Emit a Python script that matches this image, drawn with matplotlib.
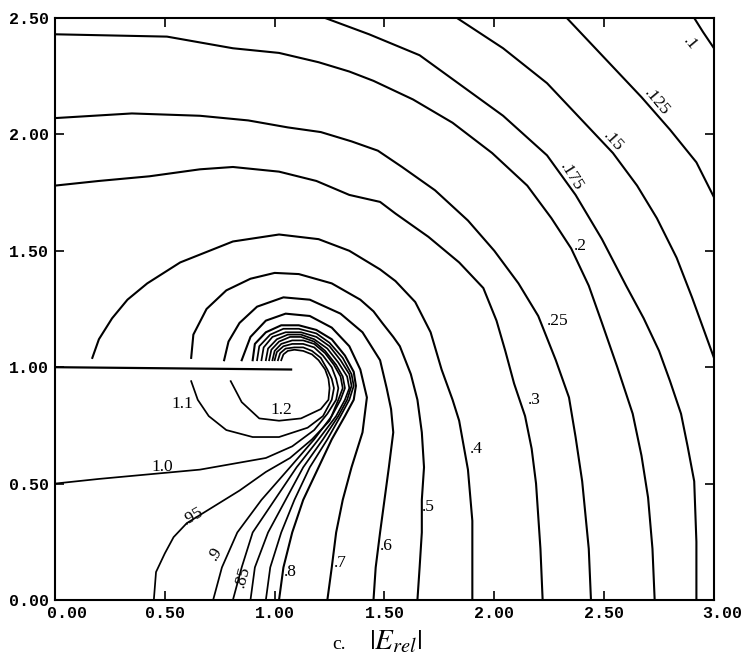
import matplotlib
matplotlib.use("Agg")
import matplotlib.pyplot as plt
from matplotlib.transforms import ScaledTranslation

# ---------------- data ----------------
plate_x = [0.00, 1.08]
plate_y = [1.00, 0.99]

c0100 = [(2.91, 2.50), (2.95, 2.44), (3.00, 2.37)]
c0125 = [(2.33, 2.50), (2.49, 2.34), (2.67, 2.16), (2.80, 2.02), (2.92, 1.88), (3.00, 1.73)]
c0150 = [(1.83, 2.50), (2.04, 2.37), (2.24, 2.22), (2.40, 2.06), (2.54, 1.92), (2.65, 1.78),
         (2.74, 1.64), (2.83, 1.47), (2.90, 1.30), (2.95, 1.17), (3.00, 1.04)]
c0175 = [(1.23, 2.50), (1.43, 2.43), (1.66, 2.34), (1.85, 2.21), (2.04, 2.08), (2.24, 1.91),
         (2.37, 1.74), (2.49, 1.55), (2.60, 1.35), (2.68, 1.21), (2.75, 1.07), (2.80, 0.94),
         (2.85, 0.80), (2.88, 0.66), (2.91, 0.51), (2.92, 0.25), (2.92, 0.00)]
c0200 = [(0.00, 2.43), (0.51, 2.42), (0.81, 2.37), (1.02, 2.35), (1.20, 2.31), (1.34, 2.27),
         (1.45, 2.23), (1.63, 2.15), (1.81, 2.05), (1.99, 1.92), (2.15, 1.78), (2.26, 1.64),
         (2.35, 1.51), (2.43, 1.35), (2.49, 1.19), (2.56, 1.00), (2.63, 0.80), (2.67, 0.62),
         (2.70, 0.44), (2.72, 0.22), (2.73, 0.00)]
c0250 = [(0.00, 2.07), (0.35, 2.09), (0.66, 2.08), (0.88, 2.06), (1.06, 2.03), (1.21, 2.01),
         (1.35, 1.97), (1.47, 1.93), (1.58, 1.86), (1.73, 1.76), (1.88, 1.63), (2.00, 1.50),
         (2.11, 1.36), (2.20, 1.22), (2.28, 1.03), (2.34, 0.87), (2.37, 0.70), (2.40, 0.51),
         (2.43, 0.22), (2.44, 0.00)]
c0300 = [(0.00, 1.78), (0.20, 1.80), (0.43, 1.82), (0.66, 1.85), (0.81, 1.86), (1.02, 1.84),
         (1.19, 1.80), (1.34, 1.74), (1.48, 1.71), (1.55, 1.66), (1.70, 1.56), (1.84, 1.45),
         (1.95, 1.34), (2.01, 1.20), (2.05, 1.07), (2.09, 0.93), (2.14, 0.79), (2.17, 0.65),
         (2.19, 0.50), (2.21, 0.22), (2.22, 0.00)]
c0400 = [(0.17, 1.04), (0.20, 1.12), (0.26, 1.21), (0.33, 1.29), (0.42, 1.36), (0.57, 1.45),
         (0.81, 1.54), (1.02, 1.57), (1.20, 1.55), (1.34, 1.50), (1.48, 1.42), (1.55, 1.37),
         (1.64, 1.28), (1.71, 1.15), (1.76, 0.99), (1.81, 0.86), (1.84, 0.77), (1.88, 0.56),
         (1.90, 0.34), (1.90, 0.00)]
c0500 = [(0.62, 1.04), (0.63, 1.14), (0.69, 1.25), (0.78, 1.33), (0.89, 1.38), (1.00, 1.405),
         (1.11, 1.40), (1.26, 1.36), (1.39, 1.29), (1.45, 1.24), (1.49, 1.19), (1.54, 1.13),
         (1.57, 1.09), (1.62, 0.97), (1.65, 0.86), (1.67, 0.72), (1.68, 0.57), (1.67, 0.43),
         (1.67, 0.29), (1.66, 0.14), (1.65, 0.00)]
c0600 = [(0.77, 1.03), (0.79, 1.11), (0.84, 1.19), (0.92, 1.26), (1.04, 1.30), (1.16, 1.29),
         (1.30, 1.23), (1.40, 1.15), (1.48, 1.03), (1.51, 0.91), (1.53, 0.82), (1.54, 0.72),
         (1.52, 0.57), (1.50, 0.43), (1.48, 0.29), (1.46, 0.14), (1.45, 0.00)]
c0700 = [(0.85, 1.03), (0.89, 1.13), (0.96, 1.20), (1.05, 1.23), (1.16, 1.22), (1.26, 1.17),
         (1.34, 1.09), (1.39, 0.99), (1.42, 0.87), (1.40, 0.72), (1.35, 0.57), (1.31, 0.43),
         (1.28, 0.29), (1.26, 0.14), (1.24, 0.00)]
c0800 = [(0.90, 1.03), (0.91, 1.10), (0.96, 1.15), (1.03, 1.18), (1.11, 1.18), (1.19, 1.16),
         (1.26, 1.12), (1.32, 1.05), (1.36, 0.98), (1.37, 0.92), (1.36, 0.86), (1.32, 0.79),
         (1.26, 0.69), (1.20, 0.57), (1.13, 0.43), (1.08, 0.29), (1.04, 0.14), (1.02, 0.00)]
c0825 = [(0.92, 1.03), (0.93, 1.09), (0.98, 1.14), (1.04, 1.165), (1.11, 1.165), (1.19, 1.145),
         (1.25, 1.105), (1.31, 1.04), (1.35, 0.97), (1.36, 0.92), (1.34, 0.86), (1.30, 0.79),
         (1.24, 0.69), (1.16, 0.57), (1.09, 0.43), (1.03, 0.29), (0.98, 0.14), (0.96, 0.00)]
c0850 = [(0.94, 1.03), (0.95, 1.085), (0.99, 1.13), (1.05, 1.15), (1.12, 1.15), (1.19, 1.13),
         (1.25, 1.09), (1.30, 1.03), (1.34, 0.97), (1.35, 0.92), (1.33, 0.86), (1.29, 0.79),
         (1.22, 0.69), (1.13, 0.57), (1.05, 0.43), (0.97, 0.29), (0.91, 0.14), (0.89, 0.00)]
c0875 = [(0.96, 1.03), (0.97, 1.08), (1.01, 1.12), (1.06, 1.14), (1.12, 1.14), (1.18, 1.12),
         (1.24, 1.08), (1.29, 1.02), (1.33, 0.96), (1.34, 0.91), (1.32, 0.86), (1.28, 0.79),
         (1.20, 0.69), (1.10, 0.57), (1.00, 0.43), (0.90, 0.29), (0.85, 0.14), (0.81, 0.00)]
c0900 = [(0.975, 1.03), (0.985, 1.075), (1.02, 1.11), (1.07, 1.13), (1.12, 1.13), (1.18, 1.11),
         (1.23, 1.07), (1.28, 1.01), (1.31, 0.96), (1.32, 0.91), (1.30, 0.86), (1.26, 0.79),
         (1.18, 0.69), (1.07, 0.57), (0.94, 0.43), (0.83, 0.29), (0.76, 0.14), (0.72, 0.00)]
c0950 = [(0.99, 1.03), (1.00, 1.07), (1.03, 1.10), (1.08, 1.115), (1.13, 1.115), (1.18, 1.10),
         (1.23, 1.06), (1.27, 1.01), (1.30, 0.96), (1.31, 0.91), (1.29, 0.86), (1.25, 0.77),
         (1.17, 0.69), (1.07, 0.61), (0.96, 0.55), (0.84, 0.47), (0.72, 0.40), (0.60, 0.33),
         (0.54, 0.27), (0.50, 0.20), (0.46, 0.12), (0.45, 0.00)]
c1000 = [(1.00, 1.03), (1.01, 1.065), (1.04, 1.09), (1.08, 1.10), (1.13, 1.10), (1.18, 1.085),
         (1.22, 1.05), (1.26, 1.00), (1.28, 0.95), (1.29, 0.91), (1.28, 0.86), (1.24, 0.80),
         (1.18, 0.73), (1.08, 0.66), (0.96, 0.61), (0.84, 0.59), (0.66, 0.56), (0.43, 0.54),
         (0.20, 0.52), (0.00, 0.50)]
c1100 = [(1.015, 1.03), (1.025, 1.06), (1.05, 1.08), (1.09, 1.085), (1.13, 1.085), (1.17, 1.07),
         (1.21, 1.04), (1.24, 0.99), (1.26, 0.95), (1.27, 0.91), (1.26, 0.86), (1.22, 0.79),
         (1.15, 0.74), (1.02, 0.70), (0.90, 0.70), (0.78, 0.73), (0.70, 0.79), (0.65, 0.86),
         (0.62, 0.94)]
c1200 = [(1.03, 1.03), (1.04, 1.055), (1.06, 1.07), (1.09, 1.075), (1.13, 1.07), (1.17, 1.055),
         (1.20, 1.03), (1.23, 0.99), (1.245, 0.95), (1.25, 0.91), (1.245, 0.86), (1.21, 0.82),
         (1.12, 0.78), (1.02, 0.77), (0.93, 0.78), (0.85, 0.85), (0.80, 0.94)]

outer_lines = [c0100, c0125, c0150, c0175, c0200, c0250, c0300, c0400, c0500, c0600, c0700, c0800]
inner_lines = [c0825, c0850, c0875, c0900, c0950, c1000, c1100, c1200]

label_text = [".1", ".125", ".15", ".175", ".2", ".25", ".3", ".4", ".5", ".6", ".7", ".8",
              ".85", ".9", ".95", "1.0", "1.1", "1.2"]
label_x = [2.89, 2.74, 2.54, 2.35, 2.39, 2.29, 2.18, 1.92, 1.70, 1.51, 1.30, 1.07,
           0.855, 0.73, 0.63, 0.49, 0.58, 1.03]
label_y = [2.39, 2.14, 1.97, 1.82, 1.52, 1.20, 0.86, 0.65, 0.40, 0.23, 0.16, 0.12,
           0.10, 0.20, 0.36, 0.57, 0.84, 0.815]
label_rot = [-50, -50, -48, -58, 0, 0, 0, 0, 0, 0, 0, 0, 75, 60, 30, 0, 0, 0]

x_ticks = [0.0, 0.5, 1.0, 1.5, 2.0, 2.5, 3.0]
y_ticks = [0.0, 0.5, 1.0, 1.5, 2.0, 2.5]

# ---------------- drawing ----------------
fig = plt.figure(figsize=(7.51, 6.64), dpi=100)
ax = fig.add_axes([0.0732, 0.0964, 0.8775, 0.8765])

ax.plot(plate_x, plate_y, color="black", lw=1.6, solid_capstyle="butt")
for pts in outer_lines:
    xs, ys = zip(*pts)
    ax.plot(xs, ys, color="black", lw=1.5, solid_joinstyle="round")
for pts in inner_lines:
    xs, ys = zip(*pts)
    ax.plot(xs, ys, color="black", lw=1.25, solid_joinstyle="round")

for t, x, y, r in zip(label_text, label_x, label_y, label_rot):
    ax.text(x, y, t, ha="center", va="center", rotation=r, rotation_mode="anchor",
            fontsize=12.5, family="Liberation Serif", color="black")

ax.set_xlim(0, 3)
ax.set_ylim(0, 2.5)
ax.set_xticks(x_ticks)
ax.set_yticks(y_ticks)
ax.set_xticklabels([f"{v:.2f}" for v in x_ticks])
ax.set_yticklabels([f"{v:.2f}" for v in y_ticks])
ax.tick_params(direction="in", length=6.5, width=1.2, top=True, right=True,
               labelsize=12, pad=4)
for lab in ax.get_xticklabels() + ax.get_yticklabels():
    lab.set_family("Liberation Mono")
    lab.set_fontweight("bold")
xl = ax.get_xticklabels()
xl[0].set_transform(xl[0].get_transform() + ScaledTranslation(0.12, 0, fig.dpi_scale_trans))
xl[-1].set_transform(xl[-1].get_transform() + ScaledTranslation(0.08, 0, fig.dpi_scale_trans))
for s in ax.spines.values():
    s.set_linewidth(1.5)

fig.text(0.452, 0.022, "c.", fontsize=14, family="Liberation Serif", ha="center", va="baseline")
fig.text(0.492, 0.022, r"$|E_{rel}|$", fontsize=21, ha="left", va="baseline",
         math_fontfamily="stix")

fig.savefig("out.png", dpi=100, facecolor="white")
